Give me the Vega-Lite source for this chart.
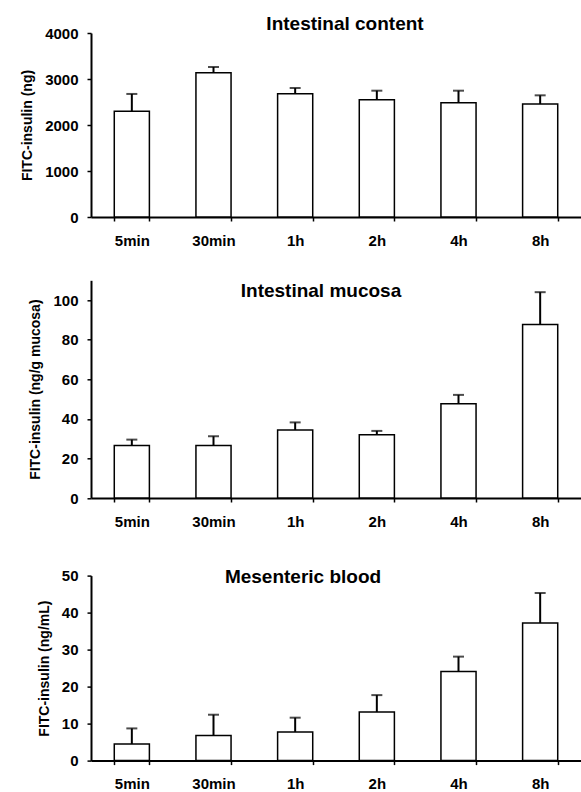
{
  "$schema": "https://vega.github.io/schema/vega-lite/v6.json",
  "padding": {"left": 20, "top": 14, "right": 0, "bottom": 0},
  "spacing": 32.3,
  "config": {
    "font": "Liberation Sans",
    "view": {"stroke": null},
    "title": {"font": "Liberation Sans", "fontSize": 19, "fontWeight": "bold", "color": "black", "anchor": "middle", "baseline": "bottom", "frame": "group"},
    "axis": {
      "domainColor": "black", "domainWidth": 2, "tickColor": "black", "tickWidth": 1.5, "tickSize": 4,
      "labelFont": "Liberation Sans", "labelFontSize": 15, "labelFontWeight": "bold", "labelColor": "black",
      "titleFont": "Liberation Sans", "titleFontSize": 14, "titleFontWeight": "bold", "titleColor": "black",
      "grid": false, "labelOverlap": false
    },
    "axisX": {"labelAngle": 0, "labelPadding": 12, "tickBand": "extent", "title": null},
    "axisY": {"labelPadding": 9, "titlePadding": 10, "format": "d", "tickCount": 12}
  },
  "datasets": {
    "d": [
      {"panel": "content", "time": "5min", "value": 2297, "upper": 2675},
      {"panel": "content", "time": "30min", "value": 3138, "upper": 3261},
      {"panel": "content", "time": "1h", "value": 2681, "upper": 2804},
      {"panel": "content", "time": "2h", "value": 2551, "upper": 2746},
      {"panel": "content", "time": "4h", "value": 2486, "upper": 2746},
      {"panel": "content", "time": "8h", "value": 2457, "upper": 2645},
      {"panel": "mucosa", "time": "5min", "value": 26.5, "upper": 29.5},
      {"panel": "mucosa", "time": "30min", "value": 26.5, "upper": 31.2},
      {"panel": "mucosa", "time": "1h", "value": 34.4, "upper": 38.2},
      {"panel": "mucosa", "time": "2h", "value": 31.9, "upper": 33.9},
      {"panel": "mucosa", "time": "4h", "value": 47.6, "upper": 52.1},
      {"panel": "mucosa", "time": "8h", "value": 87.7, "upper": 104.0},
      {"panel": "blood", "time": "5min", "value": 4.5, "upper": 8.7},
      {"panel": "blood", "time": "30min", "value": 6.75, "upper": 12.4},
      {"panel": "blood", "time": "1h", "value": 7.75, "upper": 11.6},
      {"panel": "blood", "time": "2h", "value": 13.15, "upper": 17.7},
      {"panel": "blood", "time": "4h", "value": 24.1, "upper": 28.1},
      {"panel": "blood", "time": "8h", "value": 37.2, "upper": 45.3}
    ]
  },
  "vconcat": [
    {
      "width": 490, "height": 184,
      "title": {"text": "Intestinal content", "dx": 9, "offset": -7.5},
      "data": {"name": "d"},
      "transform": [{"filter": "datum.panel === 'content'"}],
      "encoding": {
        "x": {"field": "time", "type": "nominal", "sort": ["5min", "30min", "1h", "2h", "4h", "8h"], "scale": {"paddingInner": 0.57, "paddingOuter": 0.285}}
      },
      "layer": [
        {"mark": {"type": "rule", "color": "black", "strokeWidth": 2},
         "encoding": {"y": {"field": "value", "type": "quantitative", "scale": {"domain": [0, 4000], "nice": false}, "axis": {"values": [0, 1000, 2000, 3000, 4000], "title": "FITC-insulin (ng)"}}, "y2": {"field": "upper"}}},
        {"mark": {"type": "tick", "color": "black", "size": 11, "thickness": 2},
         "encoding": {"y": {"field": "upper", "type": "quantitative"}}},
        {"mark": {"type": "bar", "fill": "white", "stroke": "black", "strokeWidth": 1.5},
         "encoding": {"y": {"field": "value", "type": "quantitative"}}}
      ]
    },
    {
      "width": 490, "height": 217.7,
      "title": {"text": "Intestinal mucosa", "dx": -15, "offset": -21},
      "data": {"name": "d"},
      "transform": [{"filter": "datum.panel === 'mucosa'"}],
      "encoding": {
        "x": {"field": "time", "type": "nominal", "sort": ["5min", "30min", "1h", "2h", "4h", "8h"], "scale": {"paddingInner": 0.57, "paddingOuter": 0.285}, "axis": {"title": " ", "titleFontSize": 6, "titlePadding": 0}}
      },
      "layer": [
        {"mark": {"type": "rule", "color": "black", "strokeWidth": 2},
         "encoding": {"y": {"field": "value", "type": "quantitative", "scale": {"domain": [0, 110], "nice": false}, "axis": {"values": [0, 20, 40, 60, 80, 100], "title": "FITC-insulin (ng/g mucosa)"}}, "y2": {"field": "upper"}}},
        {"mark": {"type": "tick", "color": "black", "size": 11, "thickness": 2},
         "encoding": {"y": {"field": "upper", "type": "quantitative"}}},
        {"mark": {"type": "bar", "fill": "white", "stroke": "black", "strokeWidth": 1.5},
         "encoding": {"y": {"field": "value", "type": "quantitative"}}}
      ]
    },
    {
      "width": 490, "height": 185,
      "title": {"text": "Mesenteric blood", "dx": -33, "offset": -18},
      "data": {"name": "d"},
      "transform": [{"filter": "datum.panel === 'blood'"}],
      "encoding": {
        "x": {"field": "time", "type": "nominal", "sort": ["5min", "30min", "1h", "2h", "4h", "8h"], "scale": {"paddingInner": 0.57, "paddingOuter": 0.285}}
      },
      "layer": [
        {"mark": {"type": "rule", "color": "black", "strokeWidth": 2},
         "encoding": {"y": {"field": "value", "type": "quantitative", "scale": {"domain": [0, 50], "nice": false}, "axis": {"values": [0, 10, 20, 30, 40, 50], "title": "FITC-insulin (ng/mL)"}}, "y2": {"field": "upper"}}},
        {"mark": {"type": "tick", "color": "black", "size": 11, "thickness": 2},
         "encoding": {"y": {"field": "upper", "type": "quantitative"}}},
        {"mark": {"type": "bar", "fill": "white", "stroke": "black", "strokeWidth": 1.5},
         "encoding": {"y": {"field": "value", "type": "quantitative"}}}
      ]
    }
  ]
}
